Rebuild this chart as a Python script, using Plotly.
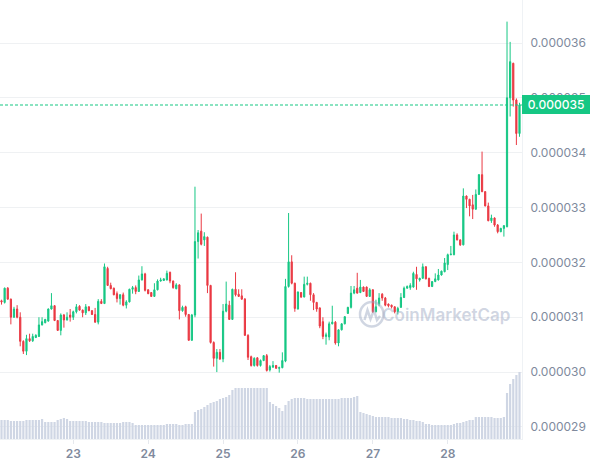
import pandas as pd
import plotly.graph_objects as go

GREEN = "#16c784"
RED = "#ea3943"
VOL_COLOR = "#cfd6e4"
TEXT_GRAY = "#808a9d"

# hourly candles, 22 01:00 -> 28 23:00
start_time = "2023-05-22 01:00"
n_candles = 167

# prices in units of 1e-6
open_ = [
    31.30, 31.27, 31.53, 31.33, 31.00, 31.15, 31.00, 30.56, 30.38, 30.61,
    30.57, 30.63, 30.65, 30.86, 30.90, 30.93, 31.15, 31.21, 30.94, 30.76,
    31.04, 30.95, 31.04, 31.00, 31.10, 31.20, 31.13, 31.08, 31.19, 31.12,
    31.05, 30.91, 31.29, 31.25, 31.89, 31.58, 31.53, 31.43, 31.34, 31.41,
    31.22, 31.28, 31.51, 31.54, 31.47, 31.68, 31.79, 31.50, 31.45, 31.38,
    31.50, 31.66, 31.67, 31.68, 31.82, 31.66, 31.52, 31.59, 31.12, 31.19,
    31.05, 30.58, 31.04, 32.38, 32.57, 32.41, 32.46, 31.58, 30.54, 30.25,
    30.36, 30.24, 31.11, 31.22, 30.96, 31.51, 31.42, 31.39, 31.33, 30.67,
    30.28, 30.12, 30.26, 30.12, 30.21, 30.30, 30.04, 30.09, 30.12, 30.07,
    30.08, 30.20, 31.56, 32.01, 31.62, 31.15, 31.45, 31.37, 31.60, 31.62,
    31.41, 31.27, 31.17, 30.92, 30.65, 30.64, 30.88, 30.91, 30.53, 30.77,
    30.88, 31.07, 31.18, 31.44, 31.53, 31.45, 31.55, 31.55, 31.38, 31.50,
    31.10, 31.24, 31.42, 31.35, 31.24, 31.22, 31.19, 31.10, 31.18, 31.36,
    31.53, 31.54, 31.55, 31.78, 31.68, 31.71, 31.92, 31.71, 31.56, 31.65,
    31.68, 31.77, 31.83, 31.96, 32.14, 32.14, 32.50, 32.41, 32.32, 33.21,
    33.15, 33.05, 32.97, 33.24, 33.60, 33.29, 33.03, 32.76, 32.81, 32.68,
    32.56, 32.62, 32.65, 35.00, 35.63, 34.96, 34.35,
]
high = [
    31.32, 31.54, 31.55, 31.34, 31.19, 31.22, 31.09, 30.58, 30.68, 30.70,
    30.70, 30.69, 31.00, 31.00, 30.97, 31.16, 31.44, 31.22, 30.95, 31.07,
    31.06, 31.09, 31.15, 31.12, 31.24, 31.22, 31.14, 31.24, 31.20, 31.13,
    31.17, 31.33, 31.33, 31.98, 31.92, 31.63, 31.54, 31.47, 31.42, 31.45,
    31.31, 31.52, 31.57, 31.58, 31.76, 31.93, 31.81, 31.51, 31.46, 31.62,
    31.69, 31.72, 31.71, 31.85, 31.83, 31.67, 31.62, 31.60, 31.21, 31.21,
    31.06, 31.06, 33.38, 32.59, 32.89, 32.55, 32.47, 31.59, 30.56, 30.42,
    30.42, 31.24, 31.65, 31.30, 31.52, 31.82, 31.51, 31.51, 31.35, 30.69,
    30.30, 30.27, 30.27, 30.23, 30.31, 30.33, 30.13, 30.20, 30.13, 30.10,
    30.36, 31.70, 32.90, 32.13, 31.63, 31.47, 31.46, 31.74, 31.74, 31.63,
    31.44, 31.28, 31.18, 31.00, 30.72, 30.92, 31.21, 30.93, 30.78, 30.89,
    31.02, 31.19, 31.57, 31.57, 31.81, 31.68, 31.56, 31.56, 31.53, 31.51,
    31.32, 31.44, 31.44, 31.37, 31.25, 31.23, 31.20, 31.19, 31.44, 31.56,
    31.58, 31.62, 31.83, 31.92, 31.72, 31.98, 31.93, 31.72, 31.66, 31.80,
    31.88, 31.85, 32.08, 32.16, 32.30, 32.56, 32.53, 32.42, 33.35, 33.22,
    33.16, 33.23, 33.33, 33.61, 34.02, 33.30, 33.09, 32.87, 32.82, 32.70,
    32.63, 32.68, 36.39, 36.02, 35.64, 34.99, 34.91,
]
low = [
    31.23, 31.25, 31.32, 30.87, 30.99, 30.98, 30.47, 30.33, 30.31, 30.55,
    30.55, 30.62, 30.64, 30.85, 30.89, 30.92, 31.14, 30.93, 30.75, 30.67,
    30.81, 30.94, 30.92, 30.95, 31.07, 31.12, 31.00, 31.04, 31.11, 31.04,
    30.90, 30.87, 31.24, 31.24, 31.57, 31.51, 31.40, 31.27, 31.23, 31.20,
    31.16, 31.27, 31.43, 31.42, 31.46, 31.67, 31.47, 31.42, 31.37, 31.37,
    31.49, 31.65, 31.66, 31.67, 31.62, 31.52, 31.51, 30.96, 31.10, 31.01,
    30.57, 30.57, 31.00, 32.07, 32.31, 32.30, 31.44, 30.52, 30.10, 30.00,
    30.22, 30.18, 31.09, 30.95, 30.95, 31.38, 31.37, 31.32, 30.66, 30.22,
    30.10, 30.10, 30.10, 30.10, 30.20, 30.01, 30.01, 30.08, 30.06, 29.99,
    30.07, 30.18, 31.54, 31.60, 31.10, 31.14, 31.35, 31.36, 31.58, 31.30,
    31.13, 31.10, 30.80, 30.60, 30.50, 30.58, 30.87, 30.50, 30.47, 30.76,
    30.87, 31.06, 31.16, 31.42, 31.43, 31.44, 31.46, 31.37, 31.37, 31.08,
    31.09, 31.20, 31.30, 31.20, 31.18, 31.16, 31.07, 31.05, 31.17, 31.35,
    31.52, 31.50, 31.54, 31.50, 31.65, 31.70, 31.69, 31.55, 31.55, 31.64,
    31.67, 31.76, 31.82, 31.86, 32.13, 32.13, 32.40, 32.30, 32.31, 32.99,
    32.84, 32.79, 32.96, 33.23, 33.28, 33.02, 32.75, 32.72, 32.65, 32.53,
    32.55, 32.47, 32.64, 34.66, 34.84, 34.14, 34.29,
]
close = [
    31.28, 31.53, 31.33, 31.00, 31.15, 31.00, 30.56, 30.38, 30.61, 30.57,
    30.65, 30.67, 30.86, 30.92, 30.96, 31.15, 31.21, 30.94, 30.76, 31.04,
    30.95, 31.00, 31.00, 31.10, 31.19, 31.13, 31.08, 31.19, 31.12, 31.05,
    30.91, 31.29, 31.25, 31.92, 31.58, 31.52, 31.41, 31.34, 31.41, 31.22,
    31.28, 31.51, 31.54, 31.47, 31.68, 31.79, 31.49, 31.43, 31.38, 31.50,
    31.66, 31.68, 31.70, 31.80, 31.66, 31.54, 31.59, 31.12, 31.18, 31.05,
    30.58, 31.04, 32.38, 32.54, 32.33, 32.47, 31.58, 30.54, 30.25, 30.36,
    30.24, 31.11, 31.24, 30.96, 31.51, 31.41, 31.38, 31.33, 30.67, 30.27,
    30.12, 30.25, 30.12, 30.21, 30.30, 30.03, 30.10, 30.12, 30.07, 30.08,
    30.21, 31.56, 32.01, 31.62, 31.16, 31.46, 31.37, 31.60, 31.62, 31.41,
    31.27, 31.15, 30.84, 30.65, 30.68, 30.88, 30.91, 30.53, 30.77, 30.88,
    31.01, 31.18, 31.44, 31.50, 31.44, 31.55, 31.47, 31.38, 31.50, 31.10,
    31.19, 31.35, 31.35, 31.22, 31.21, 31.19, 31.10, 31.16, 31.36, 31.53,
    31.56, 31.58, 31.80, 31.70, 31.71, 31.92, 31.70, 31.56, 31.65, 31.70,
    31.77, 31.84, 31.99, 32.14, 32.15, 32.50, 32.41, 32.32, 33.21, 33.15,
    33.03, 32.97, 33.24, 33.60, 33.29, 33.03, 32.76, 32.81, 32.68, 32.56,
    32.62, 32.67, 35.00, 35.66, 34.96, 34.35, 34.87,
]
volume = [
    19, 19, 19, 18, 18, 18, 18, 18, 19, 19, 19, 19, 19, 20, 17, 17, 17, 17,
    19, 20, 21, 20, 18, 18, 18, 18, 18, 18, 17, 17, 17, 17, 17, 16, 16, 16,
    16, 16, 16, 17, 17, 17, 16, 14, 14, 14, 14, 14, 14, 14, 14, 14, 14, 15,
    15, 15, 15, 14, 14, 15, 15, 15, 27, 29, 30, 32, 34, 36, 37, 38, 40, 41,
    42, 44, 49, 51, 51, 51, 51, 51, 51, 51, 51, 51, 51, 51, 37, 35, 33, 31,
    28, 34, 38, 40, 41, 41, 41, 41, 40, 40, 40, 40, 40, 40, 40, 40, 40, 40,
    40, 41, 41, 41, 41, 42, 43, 27, 26, 25, 24, 23, 22, 22, 22, 22, 22, 21,
    21, 21, 21, 20, 20, 19, 19, 18, 18, 17, 15, 15, 14, 14, 14, 14, 14, 14,
    14, 15, 16, 16, 17, 18, 19, 19, 22, 22, 22, 22, 22, 22, 21, 21, 21, 22,
    46, 55, 60, 64, 67,
]

y_ticks = [29, 30, 31, 32, 33, 34, 35, 36]
last_price_label = "0.000035"

SCALE = 1e-6
times = pd.date_range(start_time, periods=n_candles, freq="h")

W, H = 590, 465
L, R, T, B = 0, 68, 0, 26
PW, PH = W - L - R, H - T - B


def px(x, y):
    # plot-area pixel -> paper coords
    return x / PW, 1 - y / PH


fig = go.Figure()

fig.add_trace(go.Bar(
    x=times, y=volume, yaxis="y2",
    marker=dict(color=VOL_COLOR, line=dict(width=0)),
    hoverinfo="skip", showlegend=False,
))

fig.add_trace(go.Candlestick(
    x=times,
    open=[v * SCALE for v in open_],
    high=[v * SCALE for v in high],
    low=[v * SCALE for v in low],
    close=[v * SCALE for v in close],
    increasing=dict(line=dict(color=GREEN, width=1), fillcolor=GREEN),
    decreasing=dict(line=dict(color=RED, width=1), fillcolor=RED),
    whiskerwidth=0,
    showlegend=False,
))

last = close[-1] * SCALE

shapes = [dict(type="line", xref="paper", yref="y", x0=0, x1=1, y0=last, y1=last,
               line=dict(color=GREEN, width=1.2, dash="3px,2px"))]

# watermark logo
cx0, cy0 = px(360, 302)
cx1, cy1 = px(383.5, 326.5)
shapes.append(dict(type="circle", xref="paper", yref="paper", x0=cx0, x1=cx1, y0=cy1, y1=cy0,
                   line=dict(color="rgba(150,163,190,0.45)", width=2.5)))
pts = [(364.5, 320), (367.5, 310), (370.5, 319), (374, 310), (377, 320), (380, 316)]
path = "M " + " L ".join("%.4f,%.4f" % px(x, y) for x, y in pts)
shapes.append(dict(type="path", xref="paper", yref="paper", path=path,
                   line=dict(color="rgba(150,163,190,0.45)", width=2.5)))

wx, wy = px(446, 315)
annotations = [
    dict(xref="paper", yref="paper", x=wx, y=wy, text="CoinMarketCap", showarrow=False,
         font=dict(family="Inter", size=17, color="rgba(150,163,190,0.45)", weight=600),
         xanchor="center", yanchor="middle"),
    dict(xref="paper", yref="y", x=1, y=last, text=last_price_label, showarrow=False,
         xanchor="left", yanchor="middle", bgcolor=GREEN, width=66, height=17,
         borderpad=1, borderwidth=0,
         align="center", font=dict(family="Inter", size=12, color="white", weight=500)),
]

fig.update_layout(
    width=W, height=H,
    margin=dict(l=L, r=R, t=T, b=B),
    paper_bgcolor="white", plot_bgcolor="white",
    font=dict(family="Inter", color=TEXT_GRAY),
    showlegend=False,
    bargap=0.3,
    boxgap=0.45,
    shapes=shapes,
    annotations=annotations,
    xaxis=dict(
        range=["2023-05-22 00:31", "2023-05-28 23:48"],
        rangeslider=dict(visible=False),
        tickformat="%d", dtick=86400000, tick0="2023-05-22",
        showgrid=False, zeroline=False,
        showline=True, linecolor="#eff2f5", linewidth=1,
        ticks="outside", ticklen=4, tickcolor="#e6e9ee",
        tickfont=dict(size=12, color=TEXT_GRAY, weight=600),
    ),
    yaxis=dict(
        side="right",
        range=[28.78 * SCALE, 36.784 * SCALE],
        tickvals=[v * SCALE for v in y_ticks],
        tickformat=".6f",
        showgrid=True, gridcolor="#eff1f3", gridwidth=1,
        zeroline=False,
        showline=True, linecolor="#eff2f5", linewidth=1,
        ticks="", ticklabelstandoff=5,
        tickfont=dict(size=12, color=TEXT_GRAY),
    ),
    yaxis2=dict(
        overlaying="y", range=[0, 439], visible=False, fixedrange=True,
    ),
)

fig.write_html("out.html", config={"displayModeBar": False},
               post_script="document.body.style.margin='0';")
